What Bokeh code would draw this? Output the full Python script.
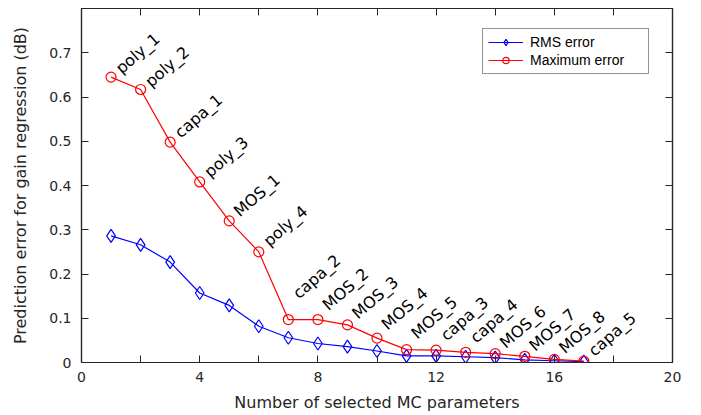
import math
from bokeh.plotting import figure
from bokeh.models import (LinearAxis, FixedTicker, PrintfTickFormatter, Legend, LegendItem,
                          ColumnDataSource)
from bokeh.core.properties import value
from bokeh.embed import file_html
from bokeh.resources import INLINE

# ---- data ----
n_params = [1, 2, 3, 4, 5, 6, 7, 8, 9, 10, 11, 12, 13, 14, 15, 16, 17]
rms_error = [0.286, 0.266, 0.227, 0.157, 0.129, 0.082, 0.056, 0.043, 0.036, 0.026,
             0.015, 0.015, 0.013, 0.011, 0.006, 0.004, 0.002]
max_error = [0.645, 0.617, 0.498, 0.408, 0.320, 0.250, 0.097, 0.097, 0.085, 0.055,
             0.029, 0.028, 0.023, 0.020, 0.014, 0.007, 0.003]
param_names = ["poly_1", "poly_2", "capa_1", "poly_3", "MOS_1", "poly_4", "capa_2",
               "MOS_2", "MOS_3", "MOS_4", "MOS_5", "capa_3", "capa_4", "MOS_6",
               "MOS_7", "MOS_8", "capa_5"]
label_y = [0.660, 0.630, 0.515, 0.426, 0.337, 0.270, 0.152, 0.125, 0.106, 0.081,
           0.061, 0.057, 0.052, 0.040, 0.033, 0.028, 0.022]
x_ticks = [0, 4, 8, 12, 16, 20]
x_minor_ticks = [2, 6, 10, 14, 18]
x_all_ticks = [0, 2, 4, 6, 8, 10, 12, 14, 16, 18, 20]
y_ticks = [0, 0.1, 0.2, 0.3, 0.4, 0.5, 0.6, 0.7]

TXT = "#262626"
FONT = "DejaVu Sans"

p = figure(width=701, height=415, x_range=(0, 20), y_range=(0, 0.8),
           output_backend="svg", toolbar_location=None,
           min_border_left=81, min_border_right=29, min_border_top=8, min_border_bottom=53,
           x_axis_label="Number of selected MC parameters",
           y_axis_label="Prediction error for gain regression (dB)")
p.xgrid.visible = False
p.ygrid.visible = False
p.outline_line_color = TXT
p.outline_line_width = 1.2
p.background_fill_color = "white"
p.border_fill_color = "white"

def style_axis(ax):
    ax.axis_line_color = TXT
    ax.axis_line_width = 1.2
    ax.major_tick_in = 7
    ax.major_tick_out = 0
    ax.minor_tick_in = 7
    ax.minor_tick_out = 0
    ax.major_tick_line_color = TXT
    ax.minor_tick_line_color = TXT
    ax.major_label_text_font = FONT
    ax.major_label_text_font_size = "14px"
    ax.major_label_text_color = TXT
    ax.axis_label_text_font = FONT
    ax.axis_label_text_font_size = "16px"
    ax.axis_label_text_font_style = "normal"
    ax.axis_label_text_color = TXT

for ax in p.xaxis:
    ax.ticker = FixedTicker(ticks=x_ticks, minor_ticks=x_minor_ticks)
    ax.formatter = PrintfTickFormatter(format="%g")
    style_axis(ax)
    ax.major_label_standoff = 9
    ax.axis_label_standoff = 8
for ax in p.yaxis:
    ax.ticker = FixedTicker(ticks=y_ticks, minor_ticks=[])
    ax.formatter = PrintfTickFormatter(format="%g")
    style_axis(ax)
    ax.major_label_standoff = 10
    ax.axis_label_standoff = 16

# mirrored tick marks (minor ticks only -> no labels)
top_ax = LinearAxis(ticker=FixedTicker(ticks=[], minor_ticks=x_all_ticks))
style_axis(top_ax)
right_ax = LinearAxis(ticker=FixedTicker(ticks=[], minor_ticks=y_ticks))
style_axis(right_ax)
p.add_layout(top_ax, "above")
p.add_layout(right_ax, "right")

src = ColumnDataSource(dict(x=n_params, rms=rms_error, mx=max_error,
                            name=param_names, ly=label_y))

blue = "#0000ff"
red = "#ff0000"
l1 = p.line("x", "rms", source=src, line_color=blue, line_width=1.2)
m1 = p.scatter("x", "rms", source=src, marker="diamond", size=13,
               line_color=blue, fill_color=None, line_width=1.2)
l2 = p.line("x", "mx", source=src, line_color=red, line_width=1.2)
m2 = p.scatter("x", "mx", source=src, marker="circle", size=10,
               line_color=red, fill_color=None, line_width=1.2)

p.text("x", "ly", text="name", source=src, angle=math.radians(41), x_offset=7,
       text_align="left", text_baseline="alphabetic",
       text_font=value(FONT), text_font_size="16px", text_color="#000000")

legend = Legend(items=[LegendItem(label="RMS error", renderers=[l1, m1]),
                       LegendItem(label="Maximum error", renderers=[l2, m2])],
                location=(401, 288), padding=5, spacing=2, margin=0,
                glyph_width=35, glyph_height=16, label_height=16,
                label_standoff=7, label_width=113,
                label_text_font="Liberation Sans", label_text_font_size="14px",
                label_text_color="#000000",
                border_line_color=TXT, border_line_width=1,
                background_fill_color="white", background_fill_alpha=1.0)
p.add_layout(legend, "center")

open("out.html", "w").write(file_html(p, INLINE))
